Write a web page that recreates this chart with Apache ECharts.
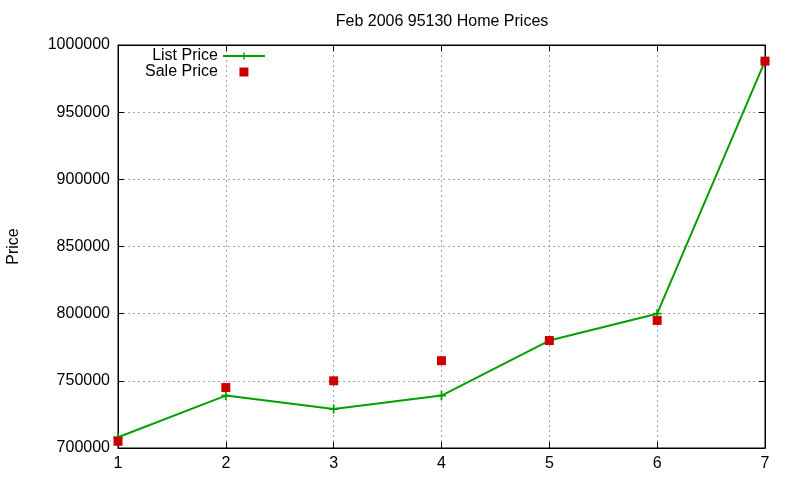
<!DOCTYPE html>
<html>
<head>
<meta charset="utf-8">
<script src="https://cdn.jsdelivr.net/npm/echarts@6/dist/echarts.min.js"></script>
<style>
  html, body { margin: 0; padding: 0; background: #fff; }
  #chart { width: 800px; height: 480px; }
</style>
</head>
<body>
<div id="chart"></div>
<script>
const months = [1, 2, 3, 4, 5, 6, 7];
const listPrice = [708000, 739000, 729000, 739000, 780000, 800000, 988000];
const salePrice = [705000, 745000, 750000, 765000, 780000, 795000, 988000];
const yTicks = [700000, 750000, 800000, 850000, 900000, 950000, 1000000];

const font = 'Liberation Sans, Arial, sans-serif';
const plusPath = 'path://M4,0h2v4h4v2h-4v4h-2v-4h-4v-2h4z';
// square in the middle of a 42x9 box, so the legend icon is not stretched
const squareIcon = 'path://M0,0L0,0M42,9L42,9M16.5,0h9v9h-9z';

const chart = echarts.init(document.getElementById('chart'), null, { renderer: 'canvas' });

const gridLine = { show: true, lineStyle: { color: '#a0a0a0', type: [2, 3], width: 1 } };
const tickStyle = { show: true, inside: true, length: 6, lineStyle: { color: '#000' } };

const option = {
  backgroundColor: '#fff',
  animation: false,
  title: {
    text: 'Feb 2006 95130 Home Prices',
    left: 437,
    top: 9,
    textAlign: 'center',
    textStyle: { fontFamily: font, fontSize: 16, fontWeight: 'normal', color: '#000' }
  },
  legend: {
    orient: 'vertical',
    left: 145,
    top: 48,
    padding: 0,
    align: 'right',
    itemWidth: 42,
    itemHeight: 9,
    itemGap: 0,
    textStyle: { fontFamily: font, fontSize: 16, color: '#000', lineHeight: 16 },
    data: [
      { name: 'List Price' },
      { name: 'Sale Price', icon: squareIcon }
    ]
  },
  grid: {
    left: 118,
    right: 35,
    top: 45,
    bottom: 32,
    outerBoundsMode: 'none',
    containLabel: false,
    show: true,
    borderColor: '#000',
    borderWidth: 1
  },
  xAxis: [{
    type: 'value',
    min: 1,
    max: 7,
    interval: 1,
    axisLine: { show: true, onZero: false, lineStyle: { color: '#000' } },
    axisTick: tickStyle,
    axisLabel: { fontFamily: font, fontSize: 16, color: '#000', margin: 8 },
    splitLine: gridLine
  }, {
    type: 'value',
    position: 'top',
    min: 1,
    max: 7,
    interval: 1,
    axisLine: { show: true, lineStyle: { color: '#000' } },
    axisTick: tickStyle,
    axisLabel: { show: false },
    splitLine: { show: false }
  }],
  yAxis: [{
    type: 'value',
    min: 700000,
    max: 1000000,
    interval: 50000,
    name: 'Price',
    nameLocation: 'middle',
    nameGap: 96,
    nameRotate: 90,
    nameTextStyle: { fontFamily: font, fontSize: 16, color: '#000' },
    axisLine: { show: true, onZero: false, lineStyle: { color: '#000' } },
    axisTick: tickStyle,
    axisLabel: {
      fontFamily: font, fontSize: 16, color: '#000', margin: 8,
      formatter: v => (yTicks.includes(v) ? String(v) : '')
    },
    splitLine: gridLine
  }, {
    type: 'value',
    position: 'right',
    min: 700000,
    max: 1000000,
    interval: 50000,
    axisLine: { show: true, lineStyle: { color: '#000' } },
    axisTick: tickStyle,
    axisLabel: { show: false },
    splitLine: { show: false }
  }],
  series: [
    {
      name: 'List Price',
      type: 'line',
      data: months.map((m, i) => [m, listPrice[i]]),
      symbol: plusPath,
      symbolSize: 9,
      showAllSymbol: true,
      lineStyle: { color: '#00a000', width: 2 },
      itemStyle: { color: '#00a000' },
      z: 3
    },
    {
      name: 'Sale Price',
      type: 'scatter',
      data: months.map((m, i) => [m, salePrice[i]]),
      symbol: 'rect',
      symbolSize: 9,
      itemStyle: { color: '#cc0000', opacity: 1 },
      z: 4
    }
  ]
};

chart.setOption(option);
</script>
</body>
</html>
